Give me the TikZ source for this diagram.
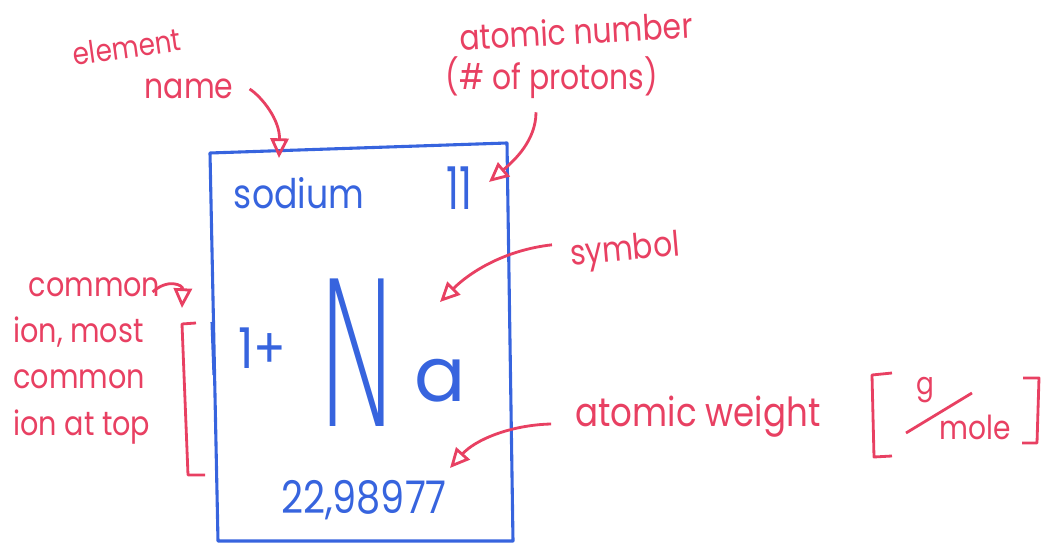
\documentclass[tikz,border=0pt]{standalone}
\usepackage{fontspec}
\usepackage{graphicx}
\setmainfont{Poppins}
\newfontfamily\hand{Poppins}[FakeStretch=0.85]
\newfontfamily\penthin{DejaVuSans-ExtraLight}[Extension=.ttf]
\usetikzlibrary{arrows.meta,calc}
\definecolor{pen}{RGB}{55,100,222}
\definecolor{ink}{RGB}{232,64,98}

\begin{document}
\begin{tikzpicture}[
  x=0.025cm, y=-0.025cm,
  blu/.style={text=pen, inner sep=0pt},
  lbl/.style={text=ink, inner sep=0pt, font=\hand\fontsize{25}{30}\selectfont},
  edge/.style={draw=pen, line width=2.2pt, line join=round},
  brk/.style={draw=ink, line width=2pt, line join=round},
  fl/.style={draw=ink, line width=2pt, -{Triangle[open, length=14pt, width=13pt]}}
]
\useasboundingbox (0,0) rectangle (1042,543);

% ---------- element card ----------
\draw[edge] (210,153) -- (507,143) -- (513,541) -- (218,541) -- cycle;
\draw[edge] (212,322) -- (214,375);

\node[blu, font=\hand\fontsize{29}{32}\selectfont] (elname) at (299,193) {sodium};
\node[blu, font=\hand\fontsize{42}{44}\selectfont] (elnum) at (459,188) {\scalebox{0.8}[1]{11}};
\node[blu, font=\hand\fontsize{40}{44}\selectfont] (elion) at (262,348) {1+};
\node[blu, font=\penthin\fontsize{144}{144}\selectfont] (elN) at (359,353) {\scalebox{0.56}[1]{N}};
\node[blu, font=\fontsize{54}{56}\selectfont] (ela) at (440,381) {a};
\node[blu, font=\hand\fontsize{32}{34}\selectfont] (elwt) at (364,500) {22,98977};

% ---------- arrow tips ----------
\coordinate (tname) at (279,158);
\coordinate (tnum)  at (489,182);
\coordinate (tsym)  at (440,302);
\coordinate (twt)   at (450,468);
\coordinate (tion)  at (182,308);

% ---------- labels ----------
\node[lbl, rotate=8, font=\hand\fontsize{22}{26}\selectfont] (lelem) at (127,47) {element};
\node[lbl] (lname) at (189,89) {name};
\node[lbl, rotate=3] (lnum) at (576,31) {atomic number};
\node[lbl] (lprot) at (552,78) {(\# of protons)};
\node[lbl, rotate=5] (lsym) at (625,252) {symbol};
\node[lbl, font=\hand\fontsize{28.5}{32}\selectfont] (lwt) at (698,417) {atomic weight};
\node[lbl, anchor=north west, align=left, font=\hand\fontsize{24}{33}\selectfont] (lion) at (13,277)
  {\hspace*{11pt}common\\ion, most\\common\\ion at top};

\draw[fl] ($(lname.east)+(16,0)$) .. controls (262,97) and (280,120) .. (tname);
\draw[fl] ($(lprot.south)+(-16,13)$) .. controls (536,140) and (515,160) .. (tnum);
\draw[fl] ($(lsym.west)+(-18,-12)$) .. controls (505,250) and (470,272) .. (tsym);
\draw[fl] ($(lwt.west)+(-24,7)$) .. controls (510,425) and (475,440) .. (twt);
\draw[fl] ($(lion.north east)+(-8,15)$) .. controls (168,278) and (183,285) .. (tion);

% ---------- brackets ----------
\draw[brk] (196,323) -- (182,324) -- (188,475) -- (205,475);

\node[lbl, font=\hand\fontsize{22}{24}\selectfont] (ug) at (925,390) {g};
\node[lbl, font=\hand\fontsize{23.5}{26}\selectfont] (umole) at (975,427) {mole};
\draw[brk] (906,433) -- (972,393);
\draw[brk] (892,373) -- (872,375) -- (874,457) -- (892,456);
\draw[brk] (1023,378) -- (1039,378) -- (1037,443) -- (1022,443);

\end{tikzpicture}
\end{document}
